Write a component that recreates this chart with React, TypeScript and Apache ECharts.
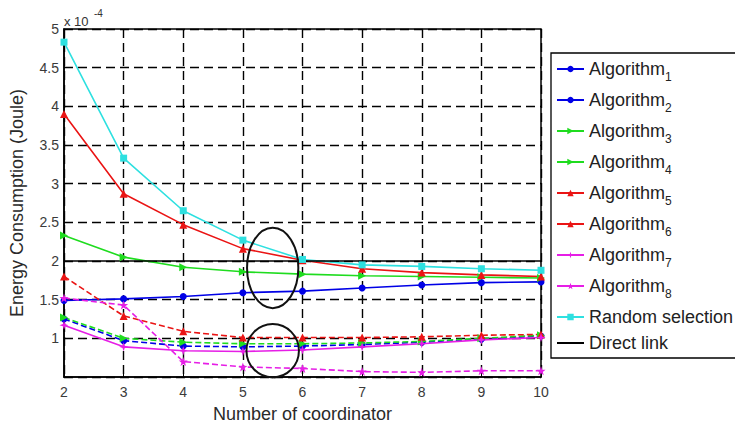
import React, { useEffect, useRef } from "react";
import * as echarts from "echarts";

// ---- data (energy in units of 1e-4 Joule) ----
const coordinators = [2, 3, 4, 5, 6, 7, 8, 9, 10];
const algorithm1 = [1.49, 1.51, 1.54, 1.59, 1.61, 1.65, 1.69, 1.72, 1.73];
const algorithm2 = [1.25, 0.97, 0.9, 0.89, 0.9, 0.92, 0.95, 0.99, 1.03];
const algorithm3 = [2.33, 2.05, 1.92, 1.86, 1.83, 1.81, 1.8, 1.79, 1.78];
const algorithm4 = [1.27, 1.0, 0.95, 0.93, 0.93, 0.94, 0.96, 1.0, 1.04];
const algorithm5 = [3.9, 2.87, 2.47, 2.16, 2.01, 1.9, 1.85, 1.82, 1.8];
const algorithm6 = [1.8, 1.29, 1.09, 1.01, 1.01, 1.01, 1.02, 1.04, 1.05];
const algorithm7 = [1.17, 0.89, 0.84, 0.83, 0.85, 0.89, 0.93, 0.98, 1.01];
const algorithm8 = [1.52, 1.43, 0.7, 0.63, 0.61, 0.57, 0.56, 0.58, 0.58];
const randomSelection = [4.83, 3.33, 2.65, 2.27, 2.02, 1.95, 1.93, 1.9, 1.88];
const directLink = [2, 2, 2, 2, 2, 2, 2, 2, 2];

const yMin = 0.5;
const yMax = 5;
const yStep = 0.5;
const exponentLabel = ["x 10", "-4"];

// ellipse annotations in data units
const ellipseCenterX = [5.5, 5.5];
const ellipseCenterY = [1.91, 0.84];
const ellipseRadiusX = [0.43, 0.44];
const ellipseRadiusY = [0.52, 0.345];

const FONT = "'Liberation Sans', Arial, sans-serif";

const STAR5 =
  "path://M0,-10 L2.35,-3.24 L9.51,-3.09 L3.8,1.24 L5.88,8.09 L0,4 L-5.88,8.09 L-3.8,1.24 L-9.51,-3.09 L-2.35,-3.24 Z";
const STAR4 = "path://M0,-10 L2.5,-2.5 L10,0 L2.5,2.5 L0,10 L-2.5,2.5 L-10,0 L-2.5,-2.5 Z";

type SeriesDef = {
  name: string;
  data: number[];
  color: string;
  dashed: boolean;
  symbol: string;
  size: number;
  rotate?: number;
};

const seriesDefs: SeriesDef[] = [
  { name: "Algorithm1", data: algorithm1, color: "#0000e6", dashed: false, symbol: "circle", size: 7 },
  { name: "Algorithm2", data: algorithm2, color: "#0000e6", dashed: true, symbol: "circle", size: 7 },
  { name: "Algorithm3", data: algorithm3, color: "#1fdc1f", dashed: false, symbol: "triangle", size: 8, rotate: -90 },
  { name: "Algorithm4", data: algorithm4, color: "#1fdc1f", dashed: true, symbol: "triangle", size: 8, rotate: -90 },
  { name: "Algorithm5", data: algorithm5, color: "#ea1414", dashed: false, symbol: "triangle", size: 8 },
  { name: "Algorithm6", data: algorithm6, color: "#ea1414", dashed: true, symbol: "triangle", size: 8 },
  { name: "Algorithm7", data: algorithm7, color: "#e61ee6", dashed: false, symbol: STAR4, size: 9 },
  { name: "Algorithm8", data: algorithm8, color: "#e61ee6", dashed: true, symbol: STAR5, size: 9 },
  { name: "Random selection", data: randomSelection, color: "#2ee0e0", dashed: false, symbol: "rect", size: 7 },
];

export default function App() {
  const ref = useRef<HTMLDivElement>(null);

  useEffect(() => {
    if (!ref.current) return;
    const chart = echarts.init(ref.current, undefined, { renderer: "svg" });

    const series: any[] = seriesDefs.map((s) => ({
      name: s.name,
      type: "line",
      data: coordinators.map((x, i) => [x, s.data[i]]),
      symbol: s.symbol,
      symbolSize: s.size,
      symbolRotate: s.rotate ?? 0,
      itemStyle: { color: s.color },
      lineStyle: { color: s.color, width: 1.6, type: s.dashed ? [6, 3] : "solid" },
      emphasis: { disabled: true },
    }));
    series.push({
      name: "Direct link",
      type: "line",
      data: coordinators.map((x, i) => [x, directLink[i]]),
      symbol: "none",
      itemStyle: { color: "rgba(0,0,0,0)", borderWidth: 0 },
      lineStyle: { color: "#000", width: 1.6 },
      emphasis: { disabled: true },
    });

    chart.setOption({
      animation: false,
      backgroundColor: "#fff",
      grid: {
        left: 57,
        right: 194,
        top: 29,
        bottom: 42,
        show: true,
        borderColor: "#000",
        borderWidth: 1.5,
        backgroundColor: "#fff",
      },
      xAxis: {
        type: "value",
        min: 2,
        max: 10,
        interval: 1,
        name: "Number of coordinator",
        nameLocation: "middle",
        nameGap: 28,
        nameTextStyle: { fontFamily: FONT, fontSize: 18, color: "#2a2a2a" },
        axisLine: { show: true, lineStyle: { color: "#000", width: 1.5 } },
        axisTick: { show: true, inside: true, length: 5, lineStyle: { color: "#000" } },
        axisLabel: { fontFamily: FONT, fontSize: 14, color: "#3a3a3a", margin: 8 },
        splitLine: { show: true, lineStyle: { color: "#000", width: 1.4, type: [9, 5] } },
      },
      yAxis: {
        type: "value",
        min: yMin,
        max: yMax,
        interval: yStep,
        name: "Energy Consumption (Joule)",
        nameLocation: "middle",
        nameGap: 38,
        nameTextStyle: { fontFamily: FONT, fontSize: 18, color: "#2a2a2a" },
        axisLine: { show: true, lineStyle: { color: "#000", width: 1.5 } },
        axisTick: { show: true, inside: true, length: 5, lineStyle: { color: "#000" } },
        axisLabel: {
          fontFamily: FONT,
          fontSize: 14,
          color: "#3a3a3a",
          margin: 5,
          formatter: (v: number) => (Math.abs(v - yMin) < 1e-9 ? "" : String(v)),
        },
        splitLine: { show: true, lineStyle: { color: "#000", width: 1.4, type: [9, 5] } },
      },
      legend: {
        orient: "vertical",
        left: 551,
        top: 53,
        padding: [7, 5, 6, 5],
        itemGap: 8,
        itemWidth: 27,
        itemHeight: 8,
        borderColor: "#000",
        borderWidth: 1.3,
        backgroundColor: "#fff",
        selectedMode: false,
        lineStyle: { type: "solid" },
        textStyle: {
          fontFamily: FONT,
          color: "#222",
          rich: {
            a: { fontFamily: FONT, fontSize: 18, lineHeight: 28, color: "#222" },
            s: { fontFamily: FONT, fontSize: 12, lineHeight: 12, verticalAlign: "bottom", color: "#222" },
          },
        },
        formatter: (name: string) => {
          const m = name.match(/^Algorithm(\d)$/);
          return m ? `{a|Algorithm}{s|${m[1]}}` : `{a|${name}}`;
        },
        data: [...seriesDefs.map((s) => s.name), "Direct link"],
      },
      series,
    });

    // annotations placed through the axes' scales
    const graphics: any[] = [];
    for (let i = 0; i < ellipseCenterX.length; i++) {
      const c = chart.convertToPixel({ gridIndex: 0 }, [ellipseCenterX[i], ellipseCenterY[i]]) as number[];
      const px = chart.convertToPixel({ gridIndex: 0 }, [ellipseCenterX[i] + ellipseRadiusX[i], ellipseCenterY[i]]) as number[];
      const py = chart.convertToPixel({ gridIndex: 0 }, [ellipseCenterX[i], ellipseCenterY[i] + ellipseRadiusY[i]]) as number[];
      graphics.push({
        type: "ellipse",
        shape: { cx: c[0], cy: c[1], rx: Math.abs(px[0] - c[0]), ry: Math.abs(c[1] - py[1]) },
        style: { fill: "none", stroke: "#111", lineWidth: 2 },
        z: 100,
      });
    }
    const corner = chart.convertToPixel({ gridIndex: 0 }, [2, yMax]) as number[];
    graphics.push({
      type: "text",
      x: corner[0],
      y: corner[1] - 8,
      style: {
        text: exponentLabel[0],
        font: `13px ${FONT}`,
        fill: "#333",
        verticalAlign: "middle",
      },
      z: 100,
    });
    graphics.push({
      type: "text",
      x: corner[0] + 30,
      y: corner[1] - 16,
      style: {
        text: exponentLabel[1],
        font: `10px ${FONT}`,
        fill: "#333",
        verticalAlign: "middle",
      },
      z: 100,
    });
    chart.setOption({ graphic: graphics });

    return () => chart.dispose();
  }, []);

  return (
    <div
      ref={ref}
      style={{ position: "fixed", left: 0, top: 0, width: 735, height: 428, background: "#fff" }}
    />
  );
}
